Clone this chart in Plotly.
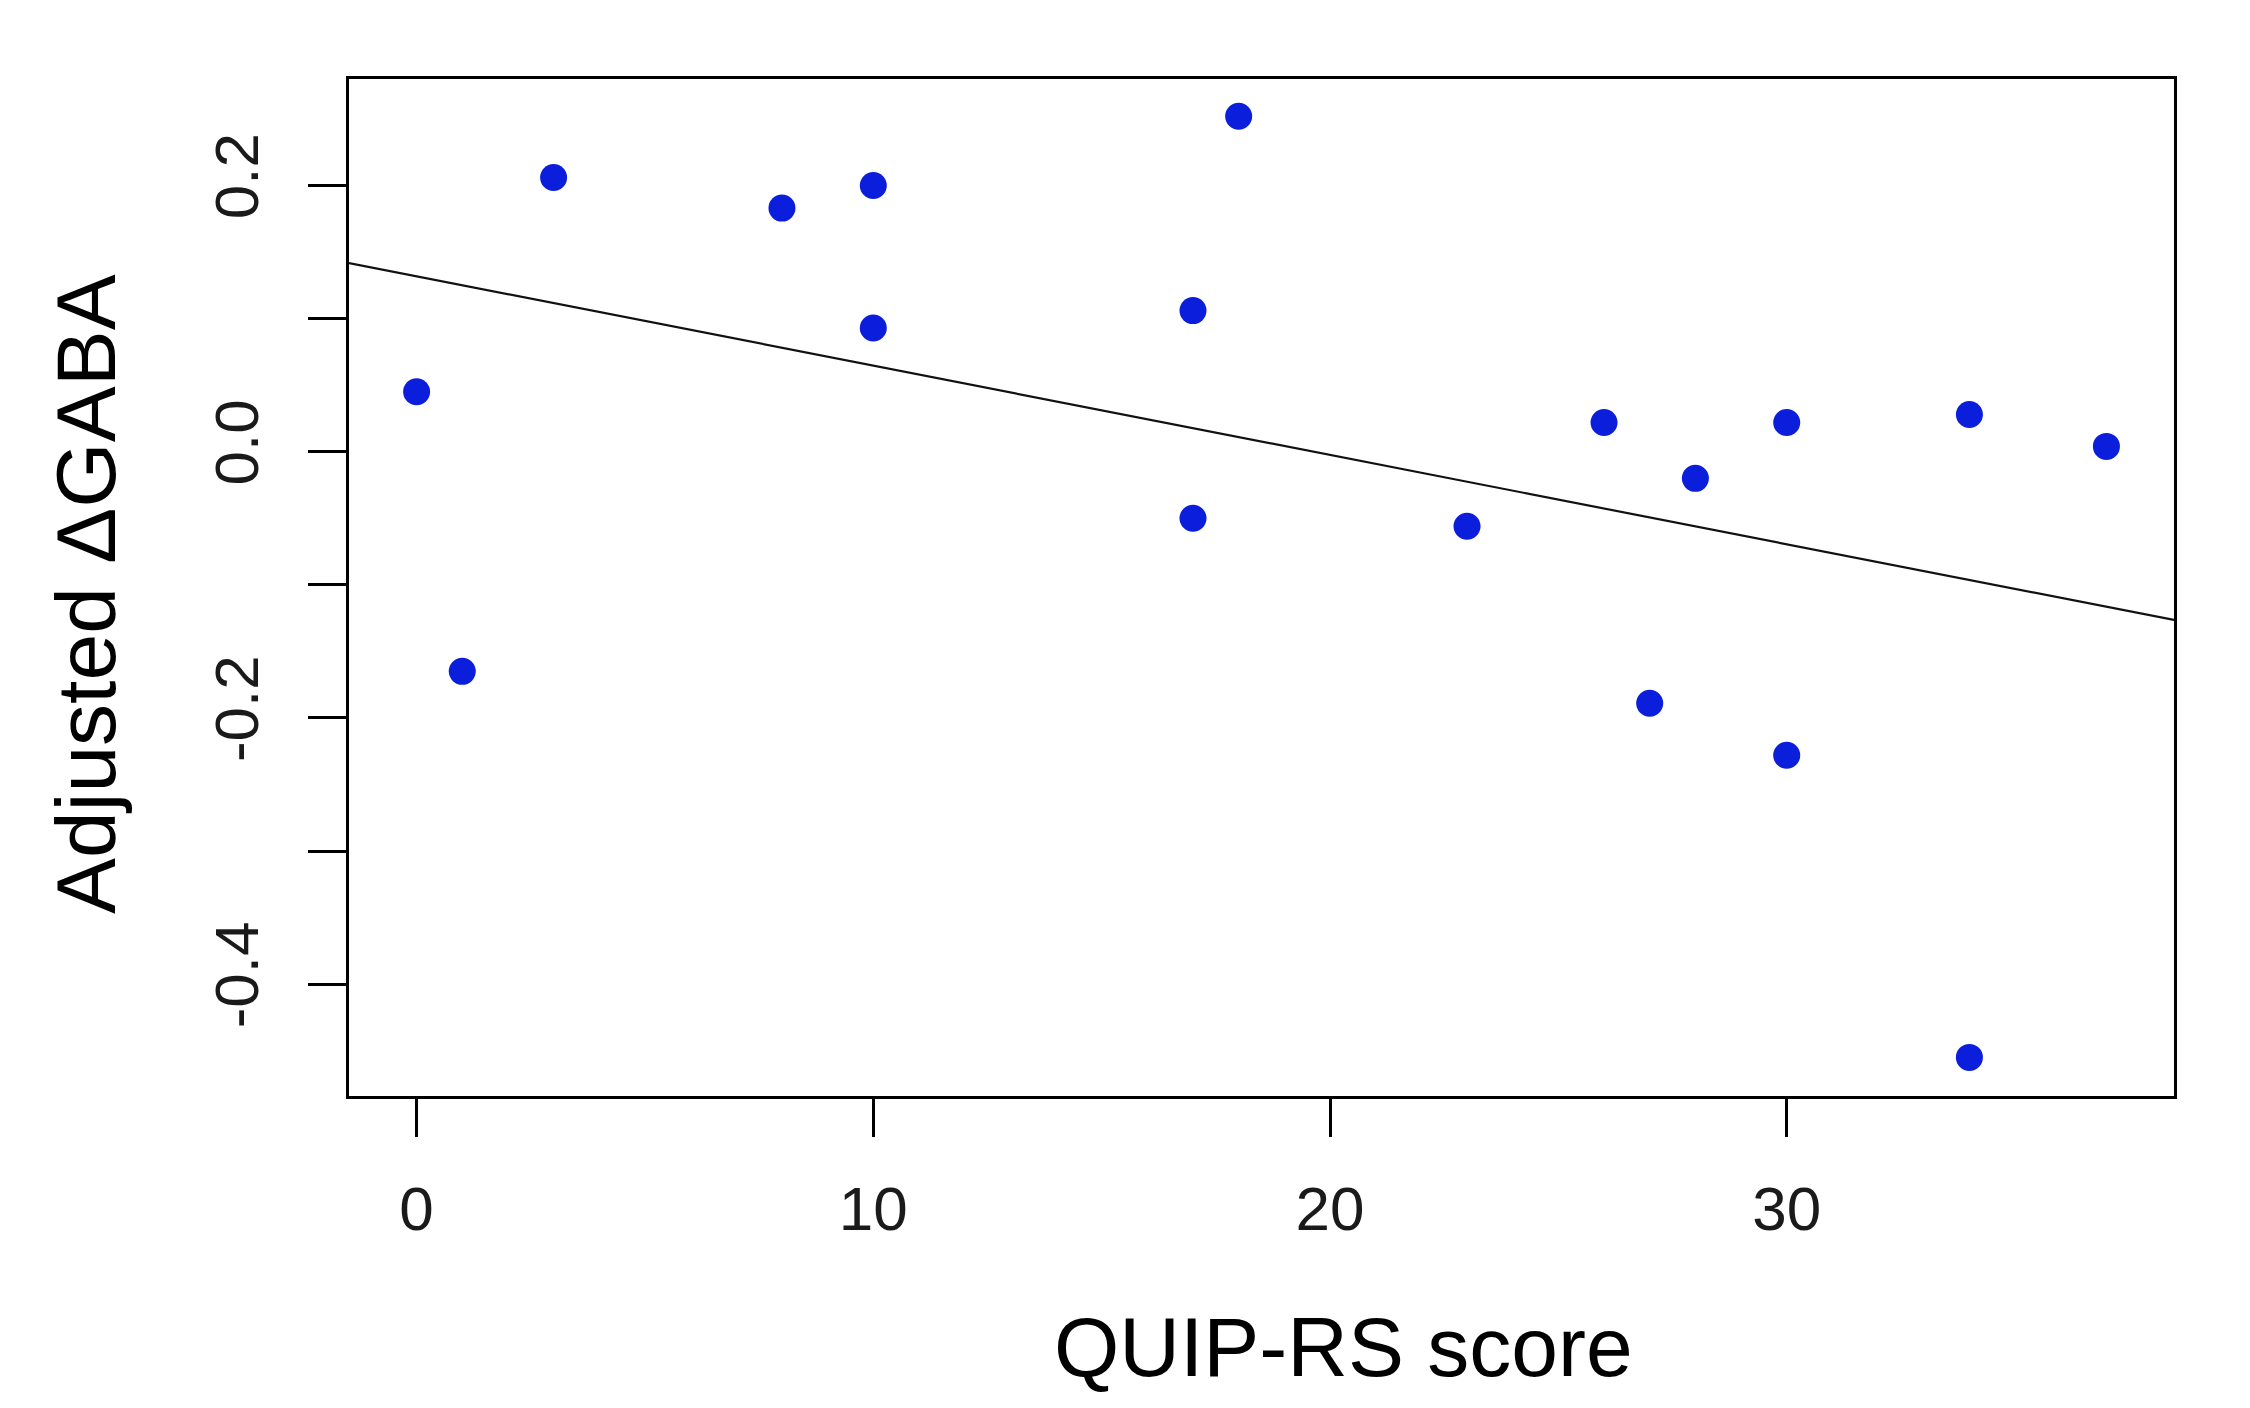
import plotly.graph_objects as go

# Data
quip_rs_score = [0, 1, 3, 8, 10, 10, 17, 17, 18, 23, 26, 27, 28, 30, 30, 34, 34, 37]
adjusted_dgaba = [0.045, -0.165, 0.206, 0.183, 0.200, 0.093, 0.106, -0.050, 0.252,
                  -0.056, 0.022, -0.189, -0.020, 0.022, -0.228, 0.028, -0.455, 0.004]
fit_intercept = 0.1318
fit_slope = -0.00671

x_ticks = [0, 10, 20, 30]
x_tick_labels = ["0", "10", "20", "30"]
y_ticks = [-0.4, -0.3, -0.2, -0.1, 0.0, 0.1, 0.2]
y_tick_labels = ["-0.4", "", "-0.2", "", "0.0", "", "0.2"]
x_range = [-1.48, 38.48]
y_range = [-0.484, 0.280]

FONT = "Liberation Sans, Arial, sans-serif"

fig = go.Figure()

line_x = [x_range[0], x_range[1]]
line_y = [fit_intercept + fit_slope * v for v in line_x]
fig.add_trace(go.Scatter(x=line_x, y=line_y, mode="lines",
                         line=dict(color="#111111", width=2.2),
                         hoverinfo="skip", showlegend=False, cliponaxis=True))

fig.add_trace(go.Scatter(x=quip_rs_score, y=adjusted_dgaba, mode="markers",
                         marker=dict(color="#0a1edc", size=27, line=dict(width=0)),
                         showlegend=False))

fig.update_layout(
    width=2250, height=1408,
    margin=dict(l=341, r=84, t=71, b=320),
    paper_bgcolor="white", plot_bgcolor="white",
    font=dict(family=FONT, color="#1a1a1a"),
    xaxis=dict(range=x_range, tickvals=x_ticks, ticktext=x_tick_labels,
               showgrid=False, zeroline=False, showline=True, mirror=True,
               linecolor="black", linewidth=3, ticks="outside", ticklen=38,
               tickwidth=3, tickcolor="black", tickfont=dict(size=62, family=FONT, color="#1a1a1a"),
               ticklabelstandoff=19),
    yaxis=dict(range=y_range, tickvals=y_ticks, ticktext=y_tick_labels,
               showgrid=False, zeroline=False, showline=True, mirror=True,
               linecolor="black", linewidth=3, ticks="outside", ticklen=38,
               tickwidth=3, tickcolor="black", tickangle=-90,
               tickfont=dict(size=62, family=FONT, color="#1a1a1a"),
               ticklabelstandoff=25),
    annotations=[
        dict(text="QUIP-RS score", xref="paper", yref="paper", x=0.5447, y=-0.2468,
             xanchor="center", yanchor="middle", showarrow=False,
             font=dict(size=84, family=FONT, color="black")),
        dict(text="Adjusted ΔGABA", xref="paper", yref="paper", x=-0.1441, y=0.4936,
             xanchor="center", yanchor="middle", showarrow=False, textangle=-90,
             font=dict(size=84, family=FONT, color="black")),
    ],
)

fig.write_html("out.html")
